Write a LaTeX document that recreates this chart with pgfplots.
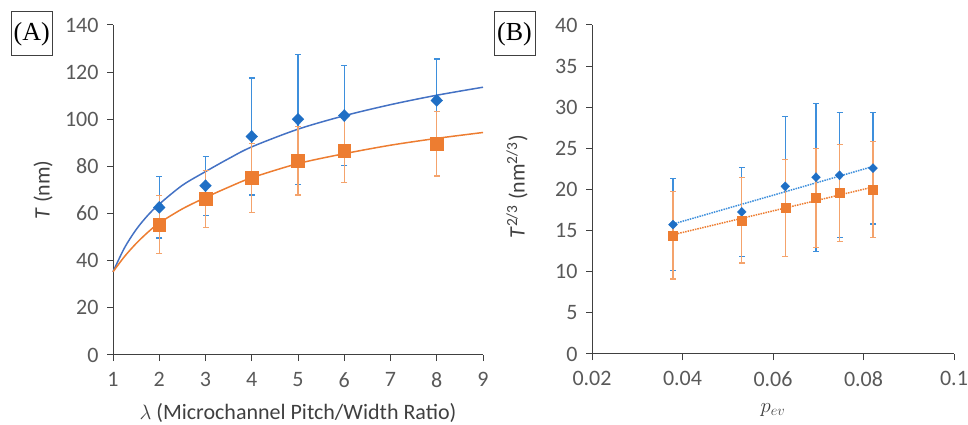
\documentclass[border=0pt]{standalone}
\usepackage{pgfplots}
\pgfplotsset{compat=1.18}
\usepackage{fontspec}
\setmainfont{Carlito}
\newfontfamily\timesfont{Liberation Serif}
\definecolor{bluemark}{HTML}{1F6FC5}
\definecolor{blueerr}{HTML}{3D8FDC}
\definecolor{bluefit}{HTML}{4472C4}
\definecolor{orng}{HTML}{ED7D31}
\definecolor{orngerr}{HTML}{F4A36C}
\definecolor{tickgray}{HTML}{595959}
\definecolor{axgray}{HTML}{404040}
\pgfplotsset{mystyle/.style={
  scale only axis, axis lines=left,
  axis line style={-, draw=axgray, line width=1pt},
  tick align=outside, major tick length=6pt,
  tick style={draw=axgray, line width=1pt},
  ticklabel style={font=\fontsize{22}{26}\selectfont, text=tickgray},
  xticklabel style={yshift=-8pt},
  yticklabel style={xshift=-5pt},
  /pgf/number format/assume math mode=true,
  label style={font=\fontsize{22}{26}\selectfont, text=axgray},
  clip=false,
}}
\begin{document}
\begin{tikzpicture}[x=1pt,y=1pt]
\useasboundingbox (0,0) rectangle (968,425);
% Panel A
\begin{axis}[mystyle, at={(113pt,70pt)}, anchor=south west,
  width=370pt, height=330pt,
  xmin=1, xmax=9, ymin=0, ymax=140,
  xtick={1,2,...,9}, ytick={0,20,...,140},
  xlabel={$\lambda$ (Microchannel Pitch/Width Ratio)},
  ylabel={\textit{T} (nm)},
  xlabel style={at={(axis description cs:0.5,-0.175)}, anchor=center},
  ylabel style={at={(axis description cs:-0.189,0.5)}, anchor=center},
]
\addplot[bluefit, line width=1.5pt, smooth] coordinates {
 (1,35.3) (1.25,45.5) (1.5,53.2) (1.75,59.2) (2,64) (2.5,72) (3,77.8) (3.5,83.3) (4,88.3) (5,95.8) (6,101.5) (7,106.2) (8,110.2) (9,113.6)};
\addplot[orng, line width=1.5pt, smooth] coordinates {
 (1,35.3) (1.25,41.8) (1.5,47.3) (1.75,52) (2,56) (2.5,62) (3,66.8) (3.5,71.2) (4,75.2) (5,81.2) (6,85.4) (7,89.0) (8,91.9) (9,94.4)};
\addplot[only marks, mark=diamond*, mark size=6pt, color=bluemark,
  mark options={fill=bluemark, draw=bluemark, xscale=1.3},
  error bars/.cd, y dir=both, y explicit,
  error bar style={color=blueerr, line width=1.2pt},
  error mark options={color=blueerr, mark size=3pt, line width=1.2pt, rotate=90}]
coordinates {
 (2,62.6) +- (0,13)
 (3,71.8) +- (0,12.5)
 (4,92.7) +- (0,24.8)
 (5,100) +- (0,27.5)
 (6,101.6) +- (0,21.2)
 (8,108) +- (0,17.6)};
\addplot[only marks, mark=square*, mark size=6.4pt, color=orng,
  mark options={fill=orng, draw=orng},
  error bars/.cd, y dir=both, y explicit,
  error bar style={color=orngerr, line width=1.2pt},
  error mark options={color=orngerr, mark size=3pt, line width=1.2pt, rotate=90}]
coordinates {
 (2,55.3) +- (0,12.3)
 (3,66.2) +- (0,12)
 (4,75.1) +- (0,14.7)
 (5,82.5) +- (0,14.6)
 (6,86.8) +- (0,13.6)
 (8,89.6) +- (0,13.7)};
\end{axis}
% Panel B
\begin{axis}[mystyle, at={(592pt,71pt)}, anchor=south west,
  width=362pt, height=329pt,
  xmin=0.02, xmax=0.1, ymin=0, ymax=40,
  xtick={0.02,0.04,0.06,0.08,0.1},
  xticklabels={0.02,0.04,0.06,0.08,0.1},
  ytick={0,5,...,40},
  xlabel={$p_{ev}$},
  ylabel={\textit{T}\textsuperscript{2/3} (nm\textsuperscript{2/3})},
  xlabel style={at={(axis description cs:0.5,-0.17)}, anchor=center},
  ylabel style={at={(axis description cs:-0.207,0.508)}, anchor=center},
]
\addplot[blueerr, line width=1.5pt, densely dotted] coordinates {(0.0379,15.8) (0.0821,22.8)};
\addplot[orng, line width=1.5pt, densely dotted] coordinates {(0.0379,14.5) (0.0821,20.3)};
\addplot[only marks, mark=diamond*, mark size=4.5pt, color=bluemark,
  mark options={fill=bluemark, draw=bluemark, xscale=1.3},
  error bars/.cd, y dir=both, y explicit,
  error bar style={color=blueerr, line width=1.2pt},
  error mark options={color=blueerr, mark size=3pt, line width=1.2pt, rotate=90}]
coordinates {
 (0.0379,15.73) +- (0,5.6)
 (0.0531,17.27) +- (0,5.45)
 (0.0627,20.39) +- (0,8.5)
 (0.0695,21.49) +- (0,9)
 (0.0747,21.73) +- (0,7.6)
 (0.0821,22.6) +- (0,6.8)};
\addplot[only marks, mark=square*, mark size=4.5pt, color=orng,
  mark options={fill=orng, draw=orng},
  error bars/.cd, y dir=both, y explicit,
  error bar style={color=orngerr, line width=1.2pt},
  error mark options={color=orngerr, mark size=3pt, line width=1.2pt, rotate=90}]
coordinates {
 (0.0379,14.43) +- (0,5.3)
 (0.0531,16.26) +- (0,5.2)
 (0.0627,17.76) +- (0,5.9)
 (0.0695,18.98) +- (0,6)
 (0.0747,19.59) +- (0,5.9)
 (0.0821,20.0) +- (0,5.8)};
\end{axis}
\node[draw=axgray, line width=1pt, minimum width=41pt, minimum height=44pt, inner sep=0pt, font=\timesfont\fontsize{26}{30}\selectfont] at (31.7,391) {(A)};
\node[draw=axgray, line width=1pt, minimum width=41pt, minimum height=44pt, inner sep=0pt, font=\timesfont\fontsize{26}{30}\selectfont] at (514.5,391) {(B)};
\end{tikzpicture}
\end{document}
